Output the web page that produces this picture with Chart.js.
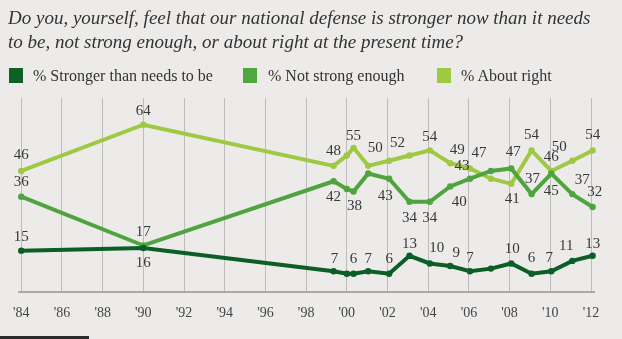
<!DOCTYPE html>
<html><head><meta charset="utf-8">
<script src="https://cdn.jsdelivr.net/npm/chart.js@4.4.0/dist/chart.umd.min.js"></script>
<style>
html,body{margin:0;padding:0;background:#ecebea;}
#wrap{position:relative;width:622px;height:339px;overflow:hidden;background:#ecebea;}
.title{position:absolute;left:8px;font-family:"Liberation Serif",serif;font-style:italic;font-size:19px;line-height:22px;color:#333;white-space:nowrap;}
.leg{position:absolute;top:68px;font-family:"Liberation Serif",serif;font-size:16px;line-height:16px;color:#333;white-space:nowrap;}
.sw{position:absolute;top:68px;width:14px;height:15px;}
canvas{position:absolute;left:0;top:0;}
#bar{position:absolute;left:0;top:336px;width:89px;height:3px;background:#2b2b2b;}
</style></head>
<body>
<div id="wrap">
  <canvas id="c" width="622" height="339"></canvas>
  <div class="title" style="top:7px">Do you, yourself, feel that our national defense is stronger now than it needs</div>
  <div class="title" style="top:31px">to be, not strong enough, or about right at the present time?</div>
  <div class="sw" style="left:9px;background:#0d6127"></div><div class="leg" style="left:33px">% Stronger than needs to be</div>
  <div class="sw" style="left:243px;background:#52a641"></div><div class="leg" style="left:268px">% Not strong enough</div>
  <div class="sw" style="left:437px;background:#9fc843"></div><div class="leg" style="left:461px">% About right</div>
  <div id="bar"></div>
</div>
<script>
// ---- data ----
const years = [1984.0, 1990.0, 1999.35, 2000.0, 2000.33, 2001.05, 2002.08, 2003.08, 2004.08, 2005.08, 2006.05, 2007.08, 2008.08, 2009.08, 2010.05, 2011.08, 2012.08];
const stronger   = [15, 16, 7, 6, 6, 7, 6, 13, 10, 9, 7, 8, 10, 6, 7, 11, 13];
const notStrong  = [36, 17, 42, 39, 38, 45, 43, 34, 34, 40, 43, 46, 47, 37, 45, 37, 32];
const aboutRight = [46, 64, 48, 52, 55, 48, 50, 52, 54, 49, 47, 43, 41, 54, 46, 50, 54];
const tickYears  = [1984, 1986, 1988, 1990, 1992, 1994, 1996, 1998, 2000, 2002, 2004, 2006, 2008, 2010, 2012];
const tickLabels = ["'84", "'86", "'88", "'90", "'92", "'94", "'96", "'98", "'00", "'02", "'04", "'06", "'08", "'10", "'12"];
const seriesNames = ['% Stronger than needs to be', '% Not strong enough', '% About right'];

// label placement (offset from point, null = no label)
const labelLayout = [
  [[0,-14],[0,15],[1,-12],null,[0,-15],[0,-12],[0,-15],[0,-12],[7,-15],[6,-13],[0,-13],null,[1,-14],[0,-16],[-2,-13],[-6,-15],[0,-12]],
  [[0,-15],[0,-13],[0,16],null,[1,15],null,[-4,17],[0,16],[0,16],[9,16],[-8,-13],null,[2,-16],[1,-15],[0,18],[10,-14],[2,-15]],
  [[0,-16],[0,-14],[0,-15],null,[0,-12],null,[-14,-13],[-12,-12],[0,-13],[7,-13],[9,-15],null,[1,15],[0,-15],[0,-14],[-13,-14],[0,-15]]
];
const colors = ['#0b5e25', '#4fa43f', '#9fc843'];

const toPts = arr => arr.map((v, i) => ({x: years[i], y: v}));

const labelPlugin = {
  id: 'valueLabels',
  afterDatasetsDraw(chart) {
    const ctx = chart.ctx;
    ctx.save();
    ctx.font = '15px "Liberation Serif", serif';
    ctx.fillStyle = '#383838';
    ctx.textAlign = 'center';
    ctx.textBaseline = 'middle';
    chart.data.datasets.forEach((ds, di) => {
      const meta = chart.getDatasetMeta(di);
      meta.data.forEach((pt, i) => {
        const o = labelLayout[di][i];
        if (!o) return;
        ctx.fillText(String(ds.data[i].y), pt.x + o[0], pt.y + o[1]);
      });
    });
    ctx.restore();
  }
};
const axisLine = {
  id: 'axisLine',
  beforeDatasetsDraw(chart) {
    const {ctx, chartArea} = chart;
    ctx.save();
    ctx.strokeStyle = '#a9a9a9';
    ctx.lineWidth = 2;
    ctx.beginPath();
    ctx.moveTo(chartArea.left - 3, chartArea.bottom);
    ctx.lineTo(chartArea.right + 4, chartArea.bottom);
    ctx.stroke();
    ctx.restore();
  }
};

new Chart(document.getElementById('c'), {
  type: 'line',
  data: {
    datasets: [stronger, notStrong, aboutRight].map((arr, i) => ({
      label: seriesNames[i],
      data: toPts(arr),
      borderColor: colors[i],
      backgroundColor: colors[i],
      borderWidth: 4,
      pointRadius: 3.2,
      pointBorderWidth: 0,
      pointBackgroundColor: colors[i],
      tension: 0,
      clip: false
    }))
  },
  options: {
    responsive: false,
    animation: false,
    events: [],
    layout: {padding: {left: 19, right: 31, top: 98, bottom: 0}},
    plugins: {legend: {display: false}, title: {display: false}, tooltip: {enabled: false}},
    scales: {
      x: {
        type: 'linear', min: 1984, max: 2012,
        afterBuildTicks: s => { s.ticks = tickYears.map(v => ({value: v})); },
        afterFit: s => { s.height = 47; },
        grid: {color: '#bcbcbc', lineWidth: 1, drawTicks: false},
        border: {display: false},
        ticks: {
          padding: 13, color: '#444',
          font: {family: '"Liberation Serif", serif', size: 14},
          callback: (v) => tickLabels[tickYears.indexOf(v)],
          maxRotation: 0, autoSkip: false
        }
      },
      y: {display: false, min: -1.1, max: 74.4}
    }
  },
  plugins: [axisLine, labelPlugin]
});
</script>
</body></html>
